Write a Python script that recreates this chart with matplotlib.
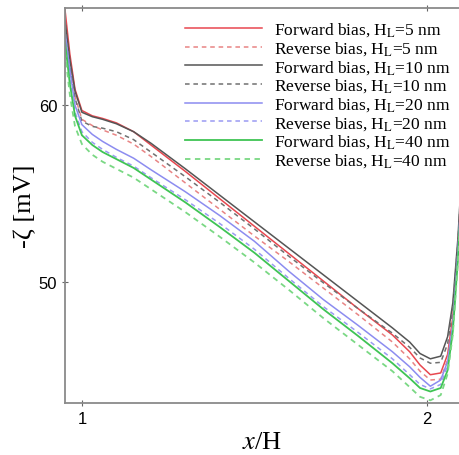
import matplotlib
matplotlib.use("Agg")
import matplotlib.pyplot as plt

plt.rcParams["font.family"] = "Liberation Serif"
plt.rcParams["mathtext.fontset"] = "stix"

x = [0.951, 0.965, 0.98, 1.0, 1.03, 1.06, 1.10, 1.15, 1.20, 1.30, 1.40, 1.50,
     1.60, 1.70, 1.80, 1.90, 1.95, 1.98, 2.01, 2.04, 2.06, 2.075, 2.09, 2.10]

# -zeta [mV]
fwd_5 = [65.4, 62.9, 60.9, 59.7, 59.4, 59.25, 59.0, 58.5, 57.75, 56.25, 54.7, 53.15,
         51.6, 50.05, 48.5, 47.0, 46.05, 45.3, 44.75, 44.85, 45.9, 48.0, 52.0, 55.5]
rev_5 = [64.8, 62.4, 60.5, 59.2, 58.85, 58.6, 58.3, 57.8, 57.1, 55.6, 54.1, 52.6,
         51.15, 49.65, 48.15, 46.6, 45.65, 44.95, 44.45, 44.5, 45.6, 47.7, 51.8, 55.3]
fwd_10 = [64.8, 62.6, 60.8, 59.6, 59.35, 59.2, 58.95, 58.5, 57.85, 56.4, 54.9, 53.4,
          51.9, 50.4, 48.9, 47.4, 46.6, 45.95, 45.65, 45.8, 46.9, 48.8, 52.5, 56.0]
rev_10 = [64.5, 62.2, 60.4, 59.1, 58.8, 58.7, 58.5, 58.05, 57.35, 55.95, 54.5, 53.0,
          51.45, 49.95, 48.5, 47.1, 46.3, 45.7, 45.4, 45.45, 46.5, 48.5, 52.3, 55.8]
fwd_20 = [64.1, 62.0, 60.0, 58.9, 58.35, 57.95, 57.5, 57.0, 56.35, 55.1, 53.75, 52.3,
          50.6, 49.0, 47.55, 46.05, 45.2, 44.6, 44.1, 44.45, 45.5, 47.6, 51.7, 55.2]
rev_20 = [63.8, 61.5, 59.6, 58.5, 57.9, 57.5, 57.05, 56.55, 55.9, 54.65, 53.3, 51.85,
          50.2, 48.6, 47.15, 45.65, 44.75, 44.2, 43.95, 44.2, 45.3, 47.4, 51.5, 55.0]
fwd_40 = [63.6, 61.2, 59.4, 58.3, 57.75, 57.35, 56.95, 56.45, 55.8, 54.5, 53.1, 51.65,
          50.05, 48.45, 46.95, 45.4, 44.55, 44.0, 43.8, 44.0, 45.0, 47.2, 51.3, 54.9]
rev_40 = [63.0, 60.6, 58.8, 57.8, 57.2, 56.8, 56.4, 55.9, 55.25, 53.95, 52.55, 51.1,
          49.55, 47.95, 46.45, 44.95, 44.05, 43.5, 43.3, 43.6, 44.8, 47.0, 51.1, 54.7]

fig = plt.figure(figsize=(4.59, 4.56), dpi=100)
ax = fig.add_axes([65 / 459, 52 / 456, 394 / 459, 395 / 456])

dash = (0, (3, 2.5))
ax.plot(x, fwd_5, color="#e8474f", lw=1.1, label=r"Forward bias, H$_\mathrm{L}$=5 nm")
ax.plot(x, rev_5, color="#e88484", lw=1.1, ls=dash, label=r"Reverse bias, H$_\mathrm{L}$=5 nm")
ax.plot(x, fwd_10, color="#555555", lw=1.1, label=r"Forward bias, H$_\mathrm{L}$=10 nm")
ax.plot(x, rev_10, color="#707070", lw=1.1, ls=dash, label=r"Reverse bias, H$_\mathrm{L}$=10 nm")
ax.plot(x, fwd_20, color="#8c8cf0", lw=1.1, label=r"Forward bias, H$_\mathrm{L}$=20 nm")
ax.plot(x, rev_20, color="#9a9af2", lw=1.1, ls=dash, label=r"Reverse bias, H$_\mathrm{L}$=20 nm")
ax.plot(x, fwd_40, color="#3fc454", lw=1.3, label=r"Forward bias, H$_\mathrm{L}$=40 nm")
ax.plot(x, rev_40, color="#7ad884", lw=1.3, ls=dash, label=r"Reverse bias, H$_\mathrm{L}$=40 nm")

ax.set_xlim(0.951, 2.093)
ax.set_ylim(43.15, 65.5)
ax.set_xticks([1, 2])
ax.set_yticks([50, 60])
ax.tick_params(direction="inout", length=4, width=0.8, color="#666666",
               labelsize=12, top=True, right=False)
for lab in ax.get_xticklabels() + ax.get_yticklabels():
    lab.set_family("Liberation Sans")
for side in ["left", "bottom", "top"]:
    ax.spines[side].set_color("#8a8a8a")
    ax.spines[side].set_linewidth(1.3)
ax.spines["right"].set_visible(False)

ax.set_xlabel(r"$x$/H", fontsize=19, labelpad=4)
ax.set_ylabel(r"-ζ [mV]", fontsize=19, labelpad=2)

ax.legend(loc="upper right", frameon=False, fontsize=12.5, handlelength=4.4,
          handletextpad=0.7, labelspacing=0.05, borderaxespad=0.1,
          bbox_to_anchor=(1.0, 0.99))

fig.savefig("out.png", dpi=100)
